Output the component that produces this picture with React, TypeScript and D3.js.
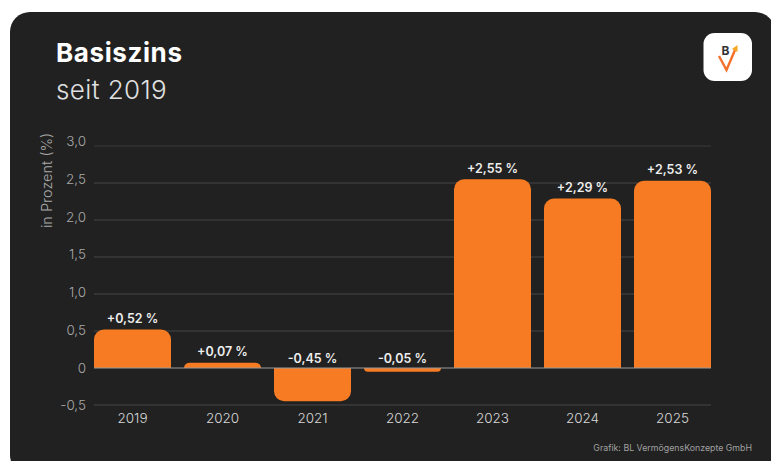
import React from "react";
import * as d3 from "d3";

const years = ["2019", "2020", "2021", "2022", "2023", "2024", "2025"];
const rates = [0.52, 0.07, -0.45, -0.05, 2.55, 2.29, 2.53];
const rateLabels = ["+0,52 %", "+0,07 %", "-0,45 %", "-0,05 %", "+2,55 %", "+2,29 %", "+2,53 %"];
const yTicks = [-0.5, 0, 0.5, 1, 1.5, 2, 2.5, 3];
const yTickLabels = ["-0,5", "0", "0,5", "1,0", "1,5", "2,0", "2,5", "3,0"];

const FONT = "Inter, 'Open Sans', sans-serif";
const ORANGE = "#F77B22";

const y = d3.scaleLinear().domain([-0.5, 3]).range([405, 146]);
// Axis labels are spread slightly wider than the gridlines.
const yLabel = d3.scaleLinear().domain([-0.5, 3]).range([405.5, 141.5]);
const x = d3.scaleBand().domain(years).range([94, 711]).paddingInner(13 / 90).paddingOuter(0);

// Bar with rounded corners on the end away from the zero line.
function barPath(left: number, width: number, v: number) {
  const y0 = y(0);
  const y1 = y(v);
  const h = Math.abs(y1 - y0);
  const r = Math.min(10, h);
  const dir = v >= 0 ? 1 : -1;
  const p = d3.path();
  p.moveTo(left, y0);
  p.lineTo(left, y1 + dir * r);
  p.arcTo(left, y1, left + r, y1, r);
  p.lineTo(left + width - r, y1);
  p.arcTo(left + width, y1, left + width, y1 + dir * r, r);
  p.lineTo(left + width, y0);
  p.closePath();
  return p.toString();
}

export default function App() {
  return (
    <svg
      width={771}
      height={461}
      style={{ position: "absolute", left: 0, top: 0, background: "#fff", fontFamily: FONT }}
    >
      <rect x={10} y={12} width={765} height={463} rx={20} fill="#212121" />
      <text x={56} y={62} fontSize={26} fontWeight={700} letterSpacing={0.6} fill="#fff">Basiszins</text>
      <text x={56} y={99} fontSize={26} fontWeight={300} letterSpacing={0.4} fill="#e0e0e0">seit 2019</text>

      {/* Logo tile */}
      <rect x={703.5} y={33} width={48.5} height={48} rx={11} fill="#fff" />
      <path d="M719 56 L726.5 70 L735 50" fill="none" stroke="#F4702A" strokeWidth={2.4} />
      <path d="M732 49 L737.5 45 L737.5 52 Z" fill="#F5A623" />
      <text x={725.5} y={55} fontSize={12} fontWeight={700} fill="#333" textAnchor="middle">B</text>

      {yTicks.map((t, i) => (
        <g key={t}>
          {t !== 0 && (
            <line x1={94} x2={711} y1={y(t)} y2={y(t)} stroke={t === 3 ? "#3a3a3a" : "#464646"} strokeWidth={1} />
          )}
          <text x={86} y={yLabel(t)} dy="0.35em" fontSize={13.5} fontWeight={300} fill="#a8a8a8" textAnchor="end">
            {yTickLabels[i]}
          </text>
        </g>
      ))}

      {years.map((yr, i) => {
        const left = x(yr)!;
        const cx = left + x.bandwidth() / 2;
        const v = rates[i];
        return (
          <g key={yr}>
            <path d={barPath(left, x.bandwidth(), v)} fill={ORANGE} />
            <text x={cx} y={v >= 0 ? y(v) - 6.5 : y(0) - 5} fontSize={12.5} fontWeight={600} fill="#eeeeee" textAnchor="middle">
              {rateLabels[i]}
            </text>
            <text x={cx} y={423} fontSize={13.5} fontWeight={300} fill="#d8d8d8" textAnchor="middle">
              {yr}
            </text>
          </g>
        );
      })}

      <line x1={94} x2={711} y1={y(0)} y2={y(0)} stroke="#9a9a9a" strokeWidth={1} />

      <text
        transform="translate(52 180.5) rotate(-90)"
        fontSize={14.5}
        fontWeight={300}
        fill="#a8a8a8"
        textAnchor="middle"
      >
        in Prozent (%)
      </text>
      <text x={752} y={451} fontSize={8.8} fontWeight={400} fill="#a0a0a0" textAnchor="end">
        Grafik: BL VermögensKonzepte GmbH
      </text>
    </svg>
  );
}
